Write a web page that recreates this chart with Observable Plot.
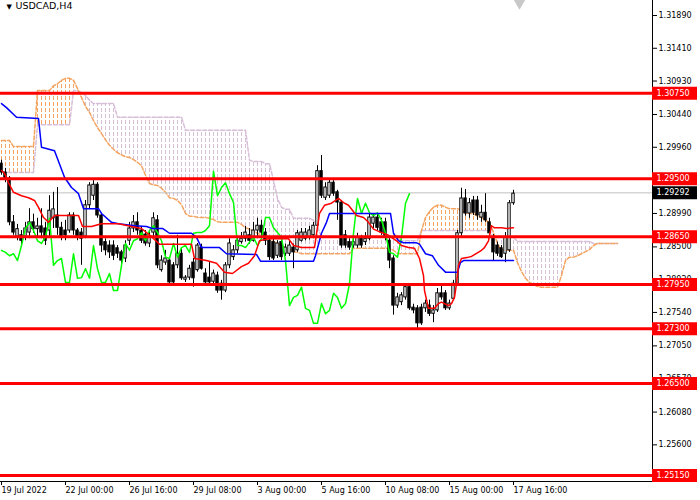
<!DOCTYPE html>
<html>
<head>
<meta charset="utf-8">
<script src="https://cdn.jsdelivr.net/npm/d3@7"></script>
<script src="https://cdn.jsdelivr.net/npm/@observablehq/plot@0.6"></script>
<style>
  body { margin: 0; background: #fff; }
  #chart svg { display: block; }
</style>
</head>
<body>
<div id="chart"></div>
<script>
// USDCAD H4 candles, one entry per bar (bar 0 = 19 Jul 2022)
const priceOpen = [
  1.2972,1.2959,1.2950,1.2886,1.2865,1.2867,1.2865,1.2871,1.2886,1.2876,
  1.2880,1.2877,1.2874,1.2892,1.2896,1.2878,1.2874,1.2874,1.2896,1.2874,
  1.2871,1.2865,1.2911,1.2925,1.2941,1.2896,1.2857,1.2852,1.2852,1.2848,
  1.2842,1.2833,1.2859,1.2877,1.2886,1.2874,1.2868,1.2855,1.2871,1.2889,
  1.2816,1.2827,1.2830,1.2823,1.2823,1.2840,1.2802,1.2805,1.2827,1.2816,
  1.2849,1.2811,1.2805,1.2799,1.2808,1.2796,1.2786,1.2823,1.2835,1.2845,
  1.2857,1.2862,1.2867,1.2859,1.2874,1.2881,1.2871,1.2859,1.2857,1.2837,
  1.2857,1.2840,1.2840,1.2849,1.2845,1.2859,1.2862,1.2864,1.2867,1.2881,
  1.2961,1.2922,1.2925,1.2944,1.2930,1.2915,1.2867,1.2857,1.2852,1.2852,
  1.2862,1.2857,1.2862,1.2884,1.2893,1.2886,1.2886,1.2859,1.2833,1.2764,
  1.2769,1.2776,1.2791,1.2761,1.2760,1.2761,1.2760,1.2764,1.2752,1.2757,
  1.2782,1.2782,1.2760,1.2774,1.2796,1.2870,1.2921,1.2899,1.2918,1.2918,
  1.2893,1.2900,1.2886,1.2864,1.2852,1.2848,1.2840,1.2845,1.2914
];
const priceHigh = [
  1.2977,1.2965,1.2953,1.2896,1.2883,1.2874,1.2886,1.2906,1.2898,1.2892,
  1.2906,1.2886,1.2925,1.2930,1.2937,1.2886,1.2889,1.2900,1.2900,1.2877,
  1.2877,1.2918,1.2944,1.2947,1.2944,1.2899,1.2862,1.2859,1.2859,1.2852,
  1.2845,1.2859,1.2886,1.2896,1.2900,1.2880,1.2874,1.2874,1.2900,1.2896,
  1.2837,1.2845,1.2833,1.2827,1.2867,1.2848,1.2808,1.2823,1.2833,1.2855,
  1.2854,1.2818,1.2827,1.2816,1.2813,1.2801,1.2827,1.2862,1.2852,1.2865,
  1.2871,1.2880,1.2877,1.2886,1.2892,1.2889,1.2877,1.2865,1.2862,1.2859,
  1.2862,1.2854,1.2859,1.2854,1.2874,1.2877,1.2877,1.2880,1.2886,1.2969,
  1.2984,1.2944,1.2950,1.2947,1.2933,1.2918,1.2874,1.2862,1.2865,1.2870,
  1.2867,1.2871,1.2899,1.2898,1.2898,1.2892,1.2892,1.2862,1.2837,1.2782,
  1.2783,1.2794,1.2794,1.2766,1.2764,1.2766,1.2772,1.2772,1.2764,1.2789,
  1.2796,1.2786,1.2772,1.2801,1.2874,1.2936,1.2934,1.2921,1.2924,1.2924,
  1.2911,1.2928,1.2892,1.2868,1.2857,1.2852,1.2871,1.2918,1.2933
];
const priceLow = [
  1.2955,1.2944,1.2881,1.2867,1.2859,1.2852,1.2859,1.2862,1.2870,1.2865,
  1.2862,1.2852,1.2865,1.2877,1.2867,1.2859,1.2859,1.2870,1.2867,1.2859,
  1.2823,1.2862,1.2906,1.2918,1.2892,1.2842,1.2837,1.2833,1.2830,1.2833,
  1.2823,1.2827,1.2852,1.2871,1.2867,1.2855,1.2851,1.2849,1.2865,1.2818,
  1.2813,1.2823,1.2795,1.2792,1.2818,1.2801,1.2798,1.2801,1.2791,1.2813,
  1.2816,1.2795,1.2794,1.2796,1.2782,1.2772,1.2783,1.2818,1.2830,1.2840,
  1.2854,1.2857,1.2854,1.2857,1.2862,1.2865,1.2852,1.2830,1.2830,1.2833,
  1.2830,1.2836,1.2836,1.2818,1.2842,1.2857,1.2859,1.2860,1.2862,1.2877,
  1.2921,1.2918,1.2921,1.2924,1.2889,1.2848,1.2848,1.2845,1.2848,1.2848,
  1.2848,1.2852,1.2859,1.2877,1.2874,1.2867,1.2859,1.2818,1.2750,1.2760,
  1.2764,1.2772,1.2757,1.2752,1.2730,1.2735,1.2754,1.2748,1.2739,1.2754,
  1.2772,1.2757,1.2757,1.2772,1.2794,1.2865,1.2895,1.2892,1.2896,1.2889,
  1.2886,1.2886,1.2865,1.2830,1.2836,1.2833,1.2827,1.2842,1.2911
];
const priceClose = [
  1.2959,1.2950,1.2886,1.2871,1.2876,1.2859,1.2877,1.2886,1.2876,1.2880,
  1.2871,1.2859,1.2903,1.2905,1.2878,1.2864,1.2867,1.2896,1.2874,1.2864,
  1.2862,1.2911,1.2940,1.2941,1.2896,1.2852,1.2845,1.2842,1.2837,1.2840,
  1.2830,1.2852,1.2877,1.2886,1.2874,1.2859,1.2855,1.2865,1.2892,1.2823,
  1.2830,1.2833,1.2798,1.2798,1.2840,1.2804,1.2805,1.2818,1.2804,1.2852,
  1.2818,1.2798,1.2798,1.2811,1.2786,1.2786,1.2823,1.2855,1.2845,1.2859,
  1.2862,1.2871,1.2859,1.2874,1.2881,1.2871,1.2859,1.2835,1.2833,1.2855,
  1.2835,1.2849,1.2852,1.2842,1.2870,1.2871,1.2871,1.2874,1.2881,1.2961,
  1.2925,1.2937,1.2944,1.2928,1.2915,1.2852,1.2852,1.2849,1.2857,1.2864,
  1.2852,1.2862,1.2893,1.2893,1.2878,1.2871,1.2864,1.2830,1.2764,1.2776,
  1.2779,1.2791,1.2760,1.2757,1.2738,1.2738,1.2767,1.2752,1.2757,1.2782,
  1.2776,1.2760,1.2767,1.2796,1.2870,1.2921,1.2899,1.2914,1.2900,1.2896,
  1.2900,1.2889,1.2870,1.2842,1.2840,1.2835,1.2864,1.2914,1.2928
];

// Ichimoku: Tenkan-sen and Kijun-sen read at their turning points
const tenkanBar = [0,0.75,1.75,3,5,6.75,8.25,9.25,10.5,11.75,13.25,19.25,20.25,22.5,25,29.25,32.5,35,37.5,39.5,
  47.5,48.25,51.25,53.75,55.75,57.75,60,61.75,63.25,64.5,66.75,71.75,73,75,78.25,79.5,80.75,82.5,84.25,85.5,
  86.75,88.75,90.5,91.75,93,95,96.75,97.5,98.75,100,101.75,103.25,104.5,105.5,105.75,106.75,108.25,109.25,110,111.75,
  112.5,113.25,113.75,114.25,115,116.75,117.5,120,120.75,121.75,122.5,123.25,125,126.25,128];
const tenkanValue = [1.2962,1.2958,1.2944,1.2930,1.2925,1.2922,1.2918,1.2908,1.2893,1.2886,1.2896,1.2896,1.2880,1.2880,1.2884,1.2884,1.2880,1.2877,1.2865,1.2854,
  1.2854,1.2833,1.2830,1.2826,1.2813,1.2811,1.2821,1.2826,1.2837,1.2859,1.2862,1.2862,1.2852,1.2849,1.2849,1.2899,1.2911,1.2914,1.2921,1.2915,
  1.2911,1.2896,1.2893,1.2886,1.2876,1.2871,1.2867,1.2864,1.2859,1.2852,1.2849,1.2848,1.2833,1.2808,1.2786,1.2760,1.2760,1.2767,1.2769,1.2764,
  1.2767,1.2776,1.2796,1.2823,1.2833,1.2835,1.2836,1.2845,1.2849,1.2859,1.2881,1.2878,1.2878,1.2877,1.2878];
const kijunBar = [0,1.25,3.75,9.25,10,13.25,15.75,17.5,19.25,20.5,24.25,25,27.5,29.25,33.25,36.25,37.75,40.25,42,47.5,
  48.75,50,54.5,56.25,63.75,64.75,78,78.5,80,81.25,82,97.25,98,99.25,100.5,103.75,104.5,106,107.75,109.25,
  111,114,114.75,115.5,128];
const kijunValue = [1.3060,1.3054,1.3040,1.3038,1.2996,1.2991,1.2952,1.2937,1.2928,1.2906,1.2906,1.2899,1.2886,1.2884,1.2881,1.2880,1.2877,1.2877,1.2870,1.2870,
  1.2864,1.2849,1.2849,1.2840,1.2839,1.2829,1.2829,1.2837,1.2870,1.2886,1.2899,1.2899,1.2870,1.2859,1.2856,1.2856,1.2854,1.2840,1.2837,1.2823,
  1.2813,1.2813,1.2827,1.2830,1.2830];
const chikouShift = 26;

// Kumo, one value per bar from bar 0 to bar 154
const senkouA = [
  1.3006,1.3006,1.3006,1.2997,1.2997,1.2997,1.2997,1.2997,1.2997,1.3079,
  1.3079,1.3079,1.3079,1.3086,1.3089,1.3094,1.3097,1.3097,1.3094,1.3082,
  1.3069,1.3056,1.3047,1.3035,1.3025,1.3016,1.3007,1.2999,1.2993,1.2988,
  1.2985,1.2982,1.2981,1.2978,1.2974,1.2969,1.2955,1.2943,1.2941,1.2940,
  1.2936,1.2930,1.2922,1.2921,1.2918,1.2912,1.2899,1.2895,1.2895,1.2893,
  1.2893,1.2893,1.2892,1.2890,1.2887,1.2886,1.2886,1.2886,1.2886,1.2886,
  1.2883,1.2878,1.2876,1.2873,1.2870,1.2867,1.2864,1.2861,1.2858,1.2855,
  1.2852,1.2849,1.2846,1.2843,1.2842,1.2840,1.2840,1.2840,1.2840,1.2840,
  1.2840,1.2840,1.2840,1.2840,1.2840,1.2840,1.2840,1.2840,1.2848,1.2848,
  1.2848,1.2848,1.2848,1.2848,1.2848,1.2848,1.2848,1.2848,1.2845,1.2840,
  1.2840,1.2840,1.2840,1.2840,1.2840,1.2874,1.2893,1.2902,1.2908,1.2911,
  1.2911,1.2908,1.2906,1.2906,1.2906,1.2903,1.2899,1.2899,1.2899,1.2895,
  1.2893,1.2889,1.2886,1.2871,1.2855,1.2845,1.2845,1.2845,1.2845,1.2827,
  1.2814,1.2804,1.2798,1.2795,1.2792,1.2791,1.2791,1.2791,1.2791,1.2791,
  1.2808,1.2830,1.2835,1.2835,1.2837,1.2840,1.2843,1.2846,1.2852,1.2855,
  1.2855,1.2855,1.2855,1.2855,1.2855
];
const senkouB = [
  1.2959,1.2959,1.2959,1.2959,1.2959,1.2959,1.2959,1.2959,1.2959,1.3029,
  1.3029,1.3029,1.3029,1.3029,1.3029,1.3029,1.3029,1.3029,1.3079,1.3079,
  1.3076,1.3072,1.3065,1.3060,1.3060,1.3060,1.3060,1.3060,1.3060,1.3040,
  1.3040,1.3040,1.3040,1.3040,1.3040,1.3040,1.3040,1.3040,1.3040,1.3040,
  1.3040,1.3040,1.3040,1.3040,1.3040,1.3040,1.3021,1.3021,1.3021,1.3021,
  1.3021,1.3021,1.3021,1.3021,1.3021,1.3021,1.3021,1.3021,1.3021,1.3021,
  1.3021,1.3021,1.2977,1.2975,1.2975,1.2975,1.2972,1.2972,1.2947,1.2921,
  1.2908,1.2905,1.2905,1.2892,1.2892,1.2892,1.2892,1.2892,1.2889,1.2880,
  1.2864,1.2864,1.2864,1.2864,1.2864,1.2864,1.2864,1.2864,1.2864,1.2864,
  1.2864,1.2864,1.2864,1.2864,1.2864,1.2864,1.2864,1.2864,1.2864,1.2864,
  1.2859,1.2859,1.2859,1.2859,1.2859,1.2874,1.2874,1.2874,1.2874,1.2874,
  1.2874,1.2874,1.2874,1.2874,1.2874,1.2874,1.2874,1.2874,1.2874,1.2874,
  1.2874,1.2874,1.2874,1.2864,1.2864,1.2864,1.2864,1.2864,1.2864,1.2858,
  1.2858,1.2858,1.2858,1.2858,1.2858,1.2858,1.2858,1.2858,1.2858,1.2858,
  1.2858,1.2858,1.2858,1.2858,1.2858,1.2858,1.2858,1.2858,1.2855,1.2855,
  1.2855,1.2855,1.2855,1.2855,1.2855
];

// horizontal levels, bid line, axis ticks
const levels = [1.3075, 1.2950, 1.2865, 1.2795, 1.2730, 1.2650, 1.2515];
const bidPrice = 1.29292;
const yTicks = [1.31890,1.31410,1.30930,1.30440,1.29960,1.29470,1.28990,1.28500,1.28020,1.27540,1.27050,1.26570,1.26080,1.25600,1.25120];
const xTickBars = [0, 16, 32, 48, 64, 80, 96, 112, 128];
const xTickLabels = ["19 Jul 2022","22 Jul 00:00","26 Jul 16:00","29 Jul 08:00","3 Aug 00:00","5 Aug 16:00","10 Aug 08:00","15 Aug 00:00","17 Aug 16:00"];
const shiftMarkerBar = [129.5];

const xDomain = [-0.25, 162.75];
const yDomain = [1.25063, 1.3211];
const labelEnd = xDomain[1] + 11.25;

const candles = priceOpen.map((o, i) => ({
  i, o, h: priceHigh[i], l: priceLow[i], c: priceClose[i], up: priceClose[i] >= o
}));
const kumo = senkouA.map((a, i) => ({i, a, b: senkouB[i]}));
const tenkan = tenkanBar.map((b, k) => ({b, v: tenkanValue[k]}));
const kijun = kijunBar.map((b, k) => ({b, v: kijunValue[k]}));
const chikou = priceClose.slice(chikouShift).map((c, k) => ({b: k, v: c}));

const sandy = "#f4a460";
const thistle = "#d8bfd8";

const chart = Plot.plot({
  width: 700,
  height: 500,
  marginTop: 0,
  marginLeft: 0,
  marginRight: 48,
  marginBottom: 19,
  style: {fontFamily: "'DejaVu Sans', sans-serif", fontSize: "8px", background: "#fff", overflow: "visible"},
  x: {type: "linear", domain: xDomain, axis: null},
  y: {domain: yDomain, axis: null},
  marks: [
    // cloud: hatched fill (pattern of dotted vertical strokes, one per bar) and its edges
    Plot.areaY(kumo, {x: "i", y1: d => d.a < d.b ? d.a : NaN, y2: "b", fill: "url(#hatchDown)", curve: "step"}),
    Plot.areaY(kumo, {x: "i", y1: d => d.a >= d.b ? d.a : NaN, y2: "b", fill: "url(#hatchUp)", curve: "step"}),
    Plot.line(kumo, {x: "i", y: "b", stroke: thistle, strokeDasharray: "4 2"}),
    Plot.line(kumo, {x: "i", y: "a", stroke: sandy, strokeDasharray: "4 2"}),
    // bid line
    Plot.ruleY([bidPrice], {stroke: "#c0c0c0"}),
    // candles
    Plot.ruleX(candles, {x: "i", y1: "l", y2: "h", stroke: "#000"}),
    Plot.rect(candles, {x1: d => d.i - 0.3, x2: d => d.i + 0.3, y1: "o", y2: "c",
      fill: d => d.up ? "#fff" : "#000", stroke: "#000"}),
    // ichimoku lines
    Plot.line(chikou, {x: "b", y: "v", stroke: "#00ff00"}),
    Plot.line(kijun, {x: "b", y: "v", stroke: "#0000ff"}),
    Plot.line(tenkan, {x: "b", y: "v", stroke: "#ff0000"}),
    // levels
    Plot.ruleY(levels, {stroke: "#ff0000", strokeWidth: 3}),
    // frame
    Plot.ruleX([xDomain[1]], {stroke: "#000"}),
    Plot.ruleY([yDomain[0]], {stroke: "#000"}),
    // axes
    Plot.axisY(yTicks, {anchor: "right", tickSize: 4, tickPadding: 2, tickFormat: d => d.toFixed(5), fill: "#000"}),
    Plot.axisX(xTickBars, {anchor: "bottom", tickSize: 4, tickPadding: 2, textAnchor: "start",
      tickFormat: d => xTickLabels[xTickBars.indexOf(d)], fill: "#000"}),
    // price labels on the right
    Plot.ruleY(levels, {x1: xDomain[1], x2: labelEnd, stroke: "#ff0000", strokeWidth: 13}),
    Plot.text(levels, {x: xDomain[1], y: d => d, dx: 4, textAnchor: "start", fill: "#fff", text: d => d.toFixed(5)}),
    Plot.ruleY([bidPrice], {x1: xDomain[1], x2: labelEnd, stroke: "#000", strokeWidth: 13}),
    Plot.text([bidPrice], {x: xDomain[1], y: d => d, dx: 4, textAnchor: "start", fill: "#fff", text: d => d.toFixed(5)}),
    // title and chart-shift marker
    Plot.text(["▼"], {frameAnchor: "top-left", dx: 6, dy: 4, fontSize: 7, fill: "#000"}),
    Plot.text(["USDCAD,H4"], {frameAnchor: "top-left", dx: 15, dy: 2, lineAnchor: "top", textAnchor: "start", fontSize: 9.5, fill: "#000"}),
    Plot.dot(shiftMarkerBar, {x: d => d, y: yDomain[1], symbol: "triangle", rotate: 180, r: 6, fill: "#c8c8c8", stroke: "none"})
  ]
});

// hatch patterns: one dotted vertical stroke every bar (4px), as in the terminal's cloud
d3.select(chart).insert("defs", ":first-child").html(`
  <pattern id="hatchUp" patternUnits="userSpaceOnUse" x="0" y="0" width="4" height="6">
    <rect x="1" y="0" width="1" height="4" fill="${sandy}"></rect>
  </pattern>
  <pattern id="hatchDown" patternUnits="userSpaceOnUse" x="0" y="0" width="4" height="6">
    <rect x="1" y="0" width="1" height="4" fill="${thistle}"></rect>
  </pattern>`);

d3.select("#chart").append(() => chart);
</script>
</body>
</html>
